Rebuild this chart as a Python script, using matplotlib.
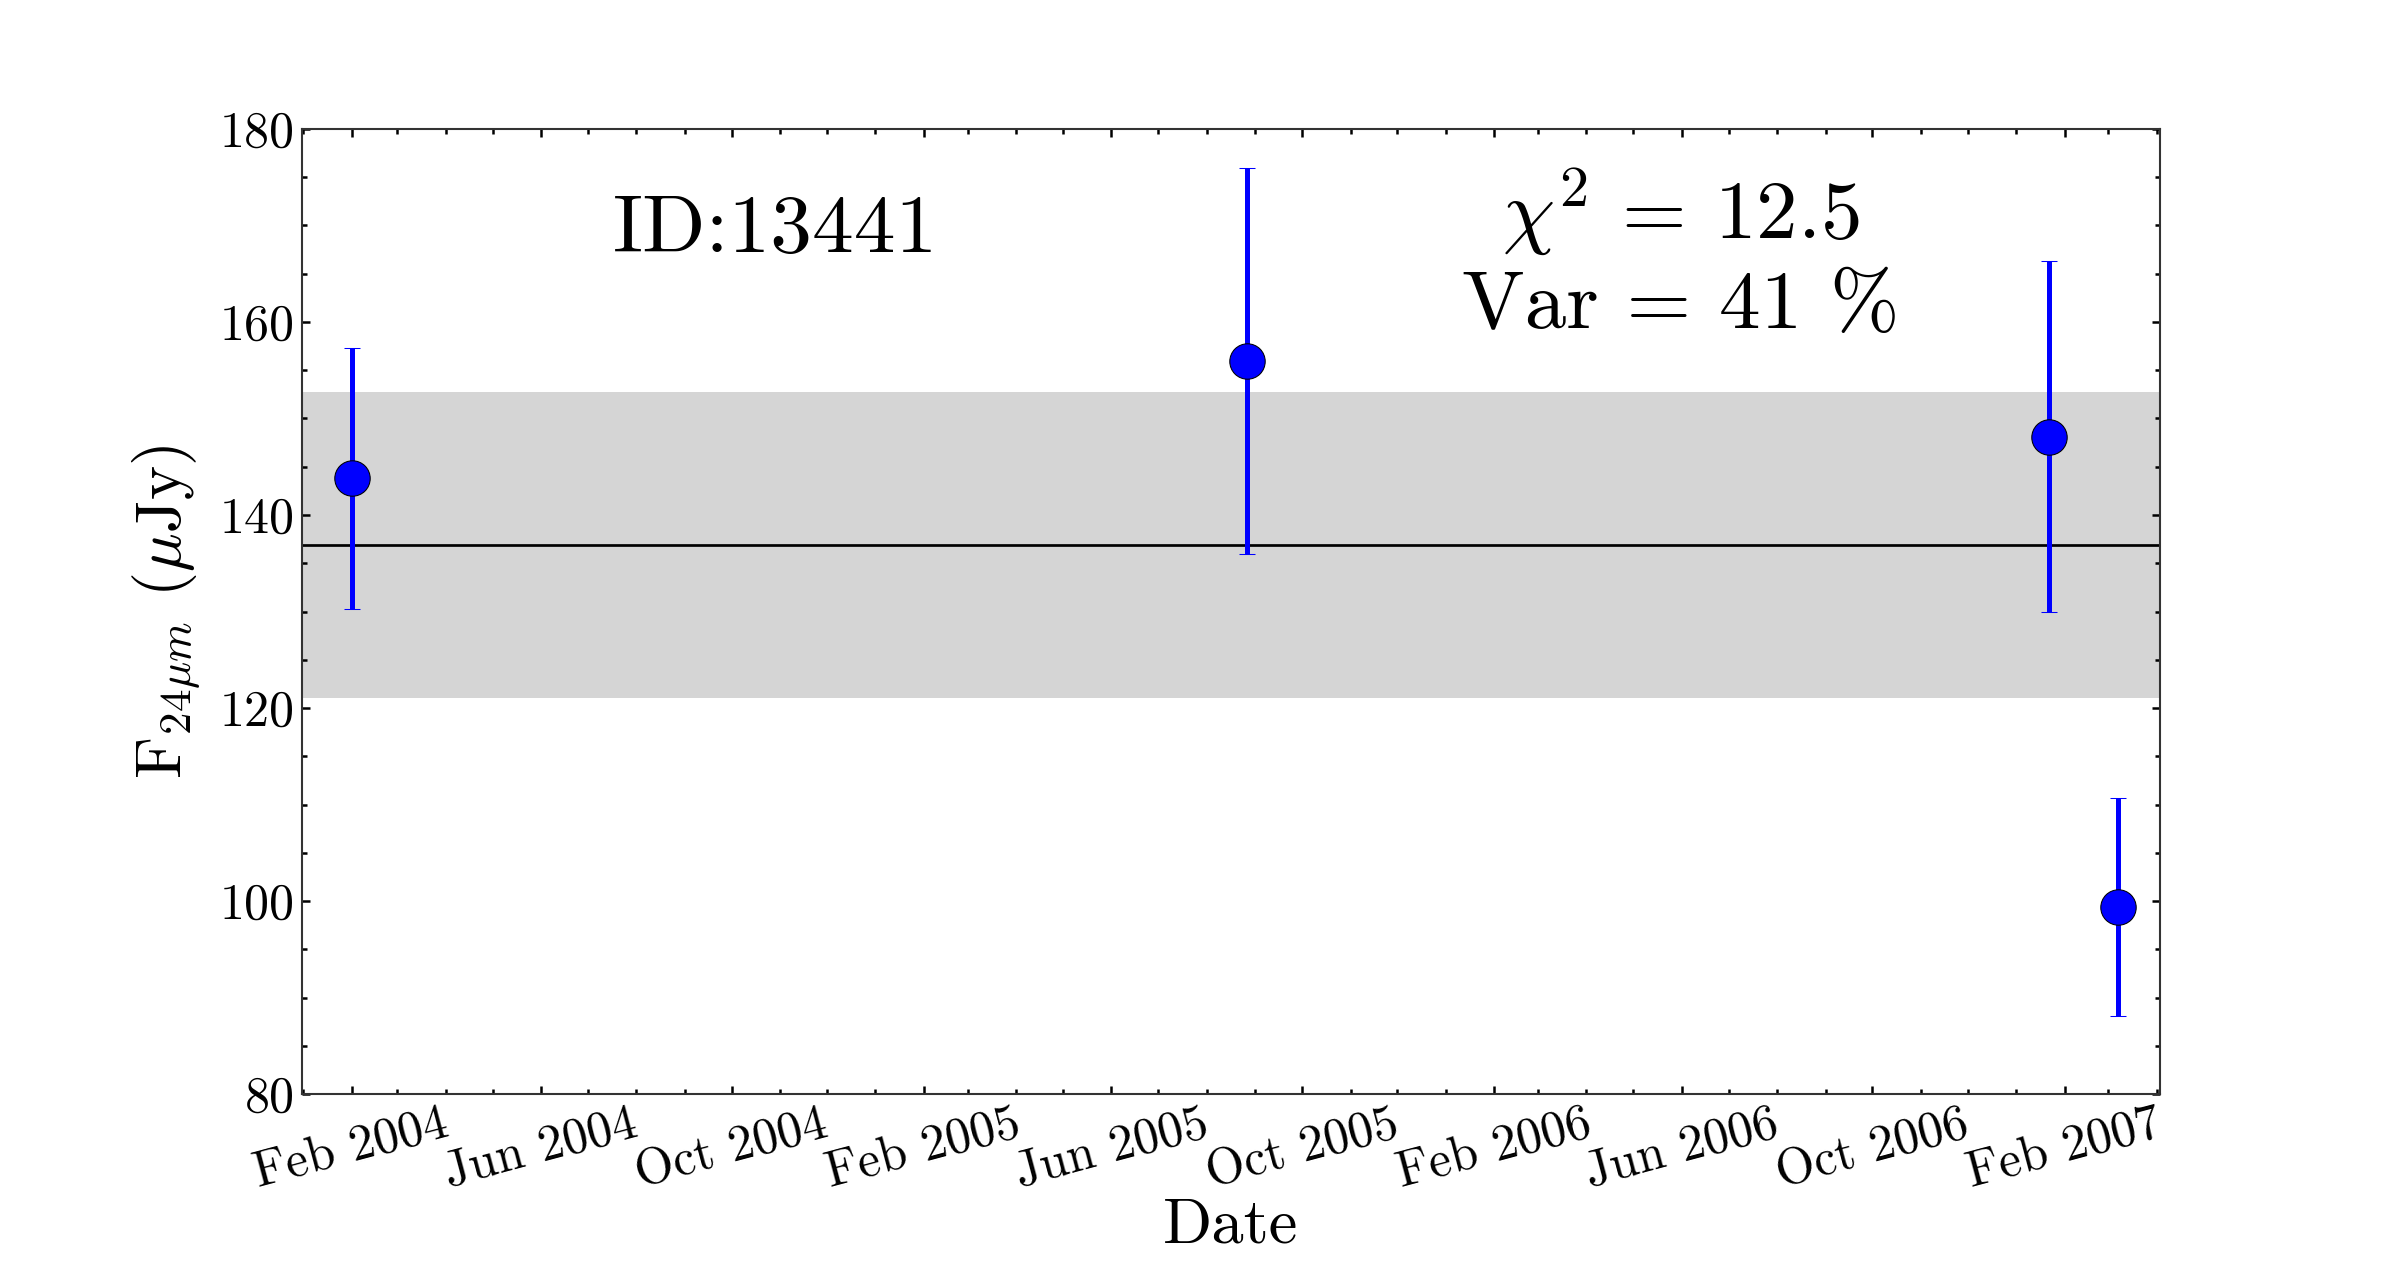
"""Mid-IR light curve for a single source, 24 micron flux vs date."""

import datetime as dt

import matplotlib
matplotlib.use('Agg')
import matplotlib.pyplot as plt
import matplotlib.dates as mdates
from matplotlib.ticker import MultipleLocator

plt.rcParams['font.family'] = 'serif'
plt.rcParams['font.serif'] = ['cmr10']
plt.rcParams['mathtext.fontset'] = 'cm'
plt.rcParams['axes.unicode_minus'] = False

# epochs and fluxes
obs_dates = ['2004-02-01', '2005-08-27', '2007-01-22', '2007-03-07']
flux = [143.8, 156.0, 148.1, 99.4]
flux_err = [13.5, 20.0, 18.2, 11.3]

mean_flux = 136.85
std_flux = 15.85
source_id = '13441'
chi2 = 12.5
var_pct = 41

dates = [dt.datetime.strptime(d, '%Y-%m-%d') for d in obs_dates]

fig = plt.figure(figsize=(16, 8.567), dpi=150)
ax = fig.add_axes([0.1258, 0.1486, 0.7742, 0.751])

# mean level and +-1 sigma band
ax.axhspan(mean_flux - std_flux, mean_flux + std_flux, color='#d5d5d5', lw=0, zorder=0)
ax.axhline(mean_flux, color='black', lw=1.3, zorder=1)

ax.errorbar(dates, flux, yerr=flux_err, fmt='o', color='blue', ecolor='blue',
            elinewidth=2.4, capsize=4, capthick=1, markersize=17,
            markeredgecolor='black', markeredgewidth=0.5, zorder=3)

ax.set_xlim(dt.datetime(2003, 12, 31), dt.datetime(2007, 4, 3))
ax.set_ylim(80, 180)

ax.xaxis.set_major_locator(mdates.MonthLocator(bymonth=[2, 6, 10]))
ax.xaxis.set_minor_locator(mdates.MonthLocator())
ax.xaxis.set_major_formatter(mdates.DateFormatter('%b %Y'))
ax.yaxis.set_major_locator(MultipleLocator(20))
ax.yaxis.set_minor_locator(MultipleLocator(5))

ax.tick_params(which='both', direction='in', top=True, right=True, width=1.2)
ax.tick_params(which='major', length=4, labelsize=24)
ax.tick_params(which='minor', length=2.2)
for lab in ax.get_xticklabels():
    lab.set_rotation(15)
    lab.set_ha('center')

for sp in ax.spines.values():
    sp.set_color('#333333')
    sp.set_linewidth(1.0)

ax.set_xlabel('Date', fontsize=31, labelpad=0)
ax.set_ylabel(r'F$_{24\mu m}$ ($\mu$Jy)', fontsize=31, labelpad=8)

ax.text(0.255, 0.894, f'ID:{source_id}', transform=ax.transAxes,
        ha='center', va='center', fontsize=40)
ax.text(0.742, 0.915, r'$\chi^2$ = ' + f'{chi2}', transform=ax.transAxes,
        ha='center', va='center', fontsize=40)
ax.text(0.742, 0.815, f'Var = {var_pct} %', transform=ax.transAxes,
        ha='center', va='center', fontsize=40)

plt.savefig('out.png', dpi=150)
plt.close()
